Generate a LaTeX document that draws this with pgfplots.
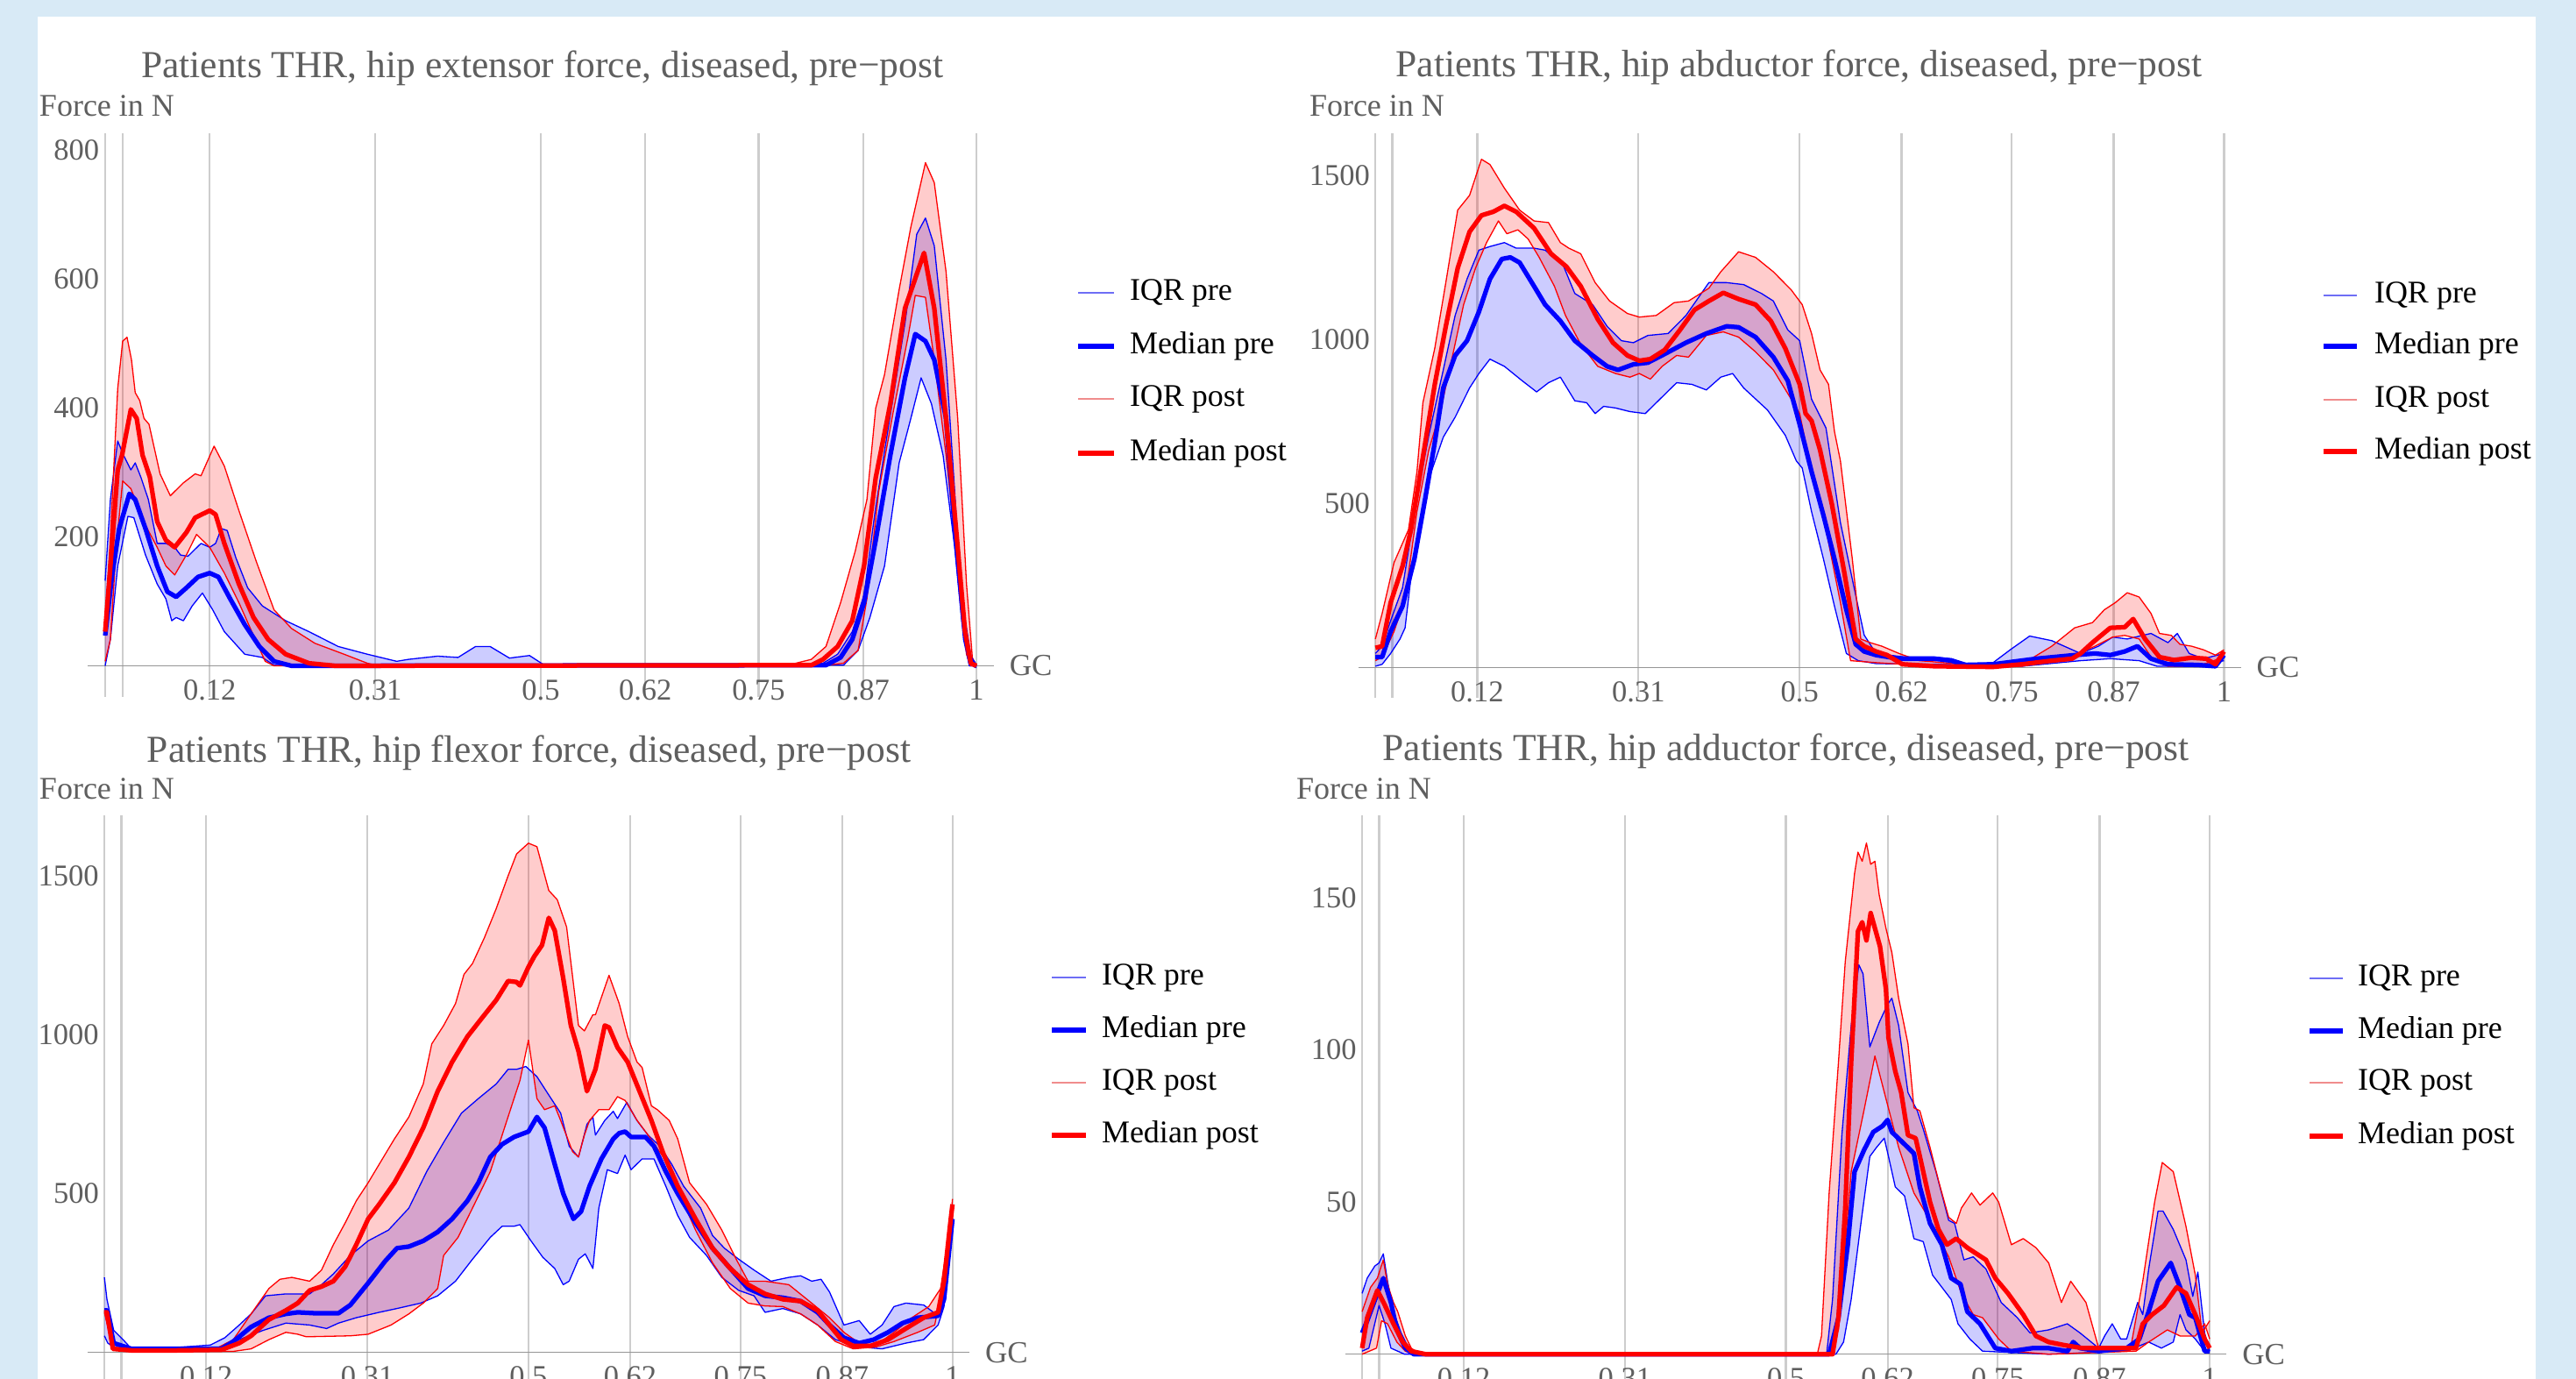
\documentclass[border=0pt]{standalone}
\usepackage{fontspec}
\setmainfont{Liberation Serif}
\usepackage{pgfplots}
\pgfplotsset{compat=1.18}
\usepgfplotslibrary{fillbetween}

\definecolor{bgblue}{RGB}{216,234,246}
\definecolor{gridc}{RGB}{205,205,205}
\definecolor{axc}{RGB}{150,150,150}
\definecolor{tgray}{RGB}{95,95,95}
\definecolor{legblue}{RGB}{110,110,245}
\definecolor{legred}{RGB}{240,140,140}

\pgfplotsset{
  gc/.style={
    set layers, scale only axis, anchor=south west, clip=false, no markers,
    xmin=-0.02, xmax=1.02,
    axis line style={draw=none},
    major tick length=0pt,
    xtick={0.02,0.12,0.31,0.5,0.62,0.75,0.87,1},
    xticklabels={,0.12,0.31,0.5,0.62,0.75,0.87,1},
    xmajorgrids=true,
    major grid style={gridc, line width=0.45pt},
    extra x ticks={0}, extra x tick labels={},
    extra x tick style={grid=major, major grid style={gridc, line width=0.3pt}},
    extra y ticks={0}, extra y tick labels={},
    extra y tick style={grid=major, major grid style={axc, line width=0.3pt}},
    tick label style={font=\fontsize{6.9}{8}\selectfont, text=tgray},
    xticklabel style={inner sep=0pt, anchor=north, yshift=4pt},
    yticklabel style={inner sep=0pt, anchor=east, xshift=2.8pt},
  },
  lo/.style={line width=0.26pt, line join=round},
  med/.style={line width=1.05pt, line join=round},
}

\begin{document}
\begin{tikzpicture}

% ---------------- extensor ----------------
\begin{axis}[gc, at={(20.02pt,155.64pt)}, width=206.76pt, height=128.46pt,
  ymin=-48, ymax=826, ytick={200,400,600,800}, yticklabels={200,400,600,800}]
\begin{pgfonlayer}{axis background}
\fill[bgblue] (rel axis cs:-0.1,-1.22) rectangle (rel axis cs:2.75,1.24);
\fill[white] (rel axis cs:-0.055233,-1.22) rectangle (rel axis cs:2.701586,1.207847);
\end{pgfonlayer}
\addplot[name path=ea, blue, lo] coordinates {
 (0,132) (0.006,258) (0.0144,349) (0.0211,327) (0.0295,304) (0.0345,315) (0.0412,292) (0.0496,258)
 (0.0597,190) (0.0697,190) (0.0798,184) (0.0865,172) (0.0949,170) (0.11,190) (0.12,184) (0.1267,190)
 (0.1334,213) (0.1401,210) (0.1502,167) (0.1636,121) (0.1804,93) (0.2072,70) (0.234,53) (0.2675,30)
 (0.301,18) (0.3346,7) (0.348,10) (0.3815,15) (0.405,13) (0.4251,30) (0.4418,30) (0.464,12) (0.487,16)
 (0.503,2) (0.52,0) (0.8,0) (0.8239,4) (0.8407,18) (0.8575,53) (0.871,110) (0.8844,247) (0.9012,390)
 (0.918,532) (0.9315,670) (0.9415,695) (0.9516,652) (0.9651,475) (0.9751,270) (0.9852,53) (0.9919,0) (1,0)};
\addplot[name path=eb, blue, lo] coordinates {
 (0,0) (0.006,41) (0.0144,155) (0.0261,232) (0.0329,230) (0.0463,172) (0.0597,127) (0.0697,104)
 (0.0764,70) (0.0815,75) (0.0898,70) (0.0999,93) (0.1116,113) (0.1234,87) (0.1368,53) (0.1602,18)
 (0.1804,13) (0.1938,1) (0.2072,0) (0.8474,1) (0.8642,24) (0.8777,75) (0.8945,155) (0.9113,315)
 (0.9247,384) (0.9365,447) (0.9483,407) (0.9617,327) (0.9751,184) (0.9852,41) (0.9919,0) (1,0)};
\addplot[fill=blue, fill opacity=0.2, draw=none] fill between[of=ea and eb];
\addplot[name path=ec, red, lo] coordinates {
 (0,60) (0.006,200) (0.0144,430) (0.0201,504) (0.0251,510) (0.0302,475) (0.0345,424) (0.0396,412)
 (0.0446,384) (0.0503,375) (0.063,298) (0.0748,264) (0.0898,284) (0.1033,298) (0.11,295) (0.125,341)
 (0.1368,310) (0.1535,241) (0.1737,161) (0.1938,87) (0.2139,58) (0.2407,35) (0.2742,18) (0.301,4)
 (0.3144,0) (0.7836,1) (0.8105,10) (0.8273,30) (0.8441,98) (0.8609,178) (0.8743,258) (0.8844,400)
 (0.8945,452) (0.9113,584) (0.9247,681) (0.9415,781) (0.9516,750) (0.9651,612) (0.9785,384)
 (0.9886,127) (0.9953,13) (1,0)};
\addplot[name path=ed, red, lo] coordinates {
 (0,7) (0.006,41) (0.0127,184) (0.0201,287) (0.0295,275) (0.0463,218) (0.0597,184) (0.0697,155)
 (0.0798,141) (0.0932,172) (0.1049,204) (0.12,184) (0.1368,144) (0.1535,98) (0.1703,47) (0.1837,7)
 (0.1938,0) (0.8273,1) (0.8474,4) (0.8642,24) (0.8743,104) (0.8878,270) (0.9046,395) (0.9214,510)
 (0.9298,575) (0.9415,572) (0.9516,475) (0.9651,327) (0.9785,155) (0.9886,18) (0.9936,0) (1,0)};
\addplot[fill=red, fill opacity=0.2, draw=none] fill between[of=ec and ed];
\addplot[blue, med] coordinates {
 (0,47) (0.0077,138) (0.0161,213) (0.0278,267) (0.0345,258) (0.0463,213) (0.0597,155) (0.0714,115)
 (0.0815,107) (0.0932,121) (0.1066,138) (0.12,144) (0.13,138) (0.1435,104) (0.1602,64) (0.177,30)
 (0.1938,7) (0.2139,0) (0.8273,1) (0.8441,13) (0.8575,41) (0.871,98) (0.8844,195) (0.9012,327)
 (0.918,447) (0.9298,515) (0.9415,504) (0.9516,475) (0.9651,384) (0.9751,212) (0.9852,70)
 (0.9919,13) (0.9987,0) (1,0)};
\addplot[red, med] coordinates {
 (0,53) (0.006,155) (0.0144,304) (0.0194,327) (0.0295,398) (0.0362,384) (0.0429,327) (0.0513,293)
 (0.0597,224) (0.0697,195) (0.0798,184) (0.0932,207) (0.1033,230) (0.12,241) (0.1267,235) (0.1368,190)
 (0.1535,127) (0.1703,75) (0.1871,41) (0.2072,18) (0.234,4) (0.2642,0) (0.8105,1) (0.8239,10)
 (0.8407,30) (0.8575,70) (0.871,155) (0.8844,292) (0.9012,407) (0.918,555) (0.9399,641) (0.9516,555)
 (0.9651,384) (0.9785,184) (0.9869,53) (0.9936,4) (1,0)};
\node[anchor=west, inner sep=0pt, xshift=3.4pt, font=\fontsize{7}{8}\selectfont, text=tgray] at (axis cs:1.02,0) {GC};
\end{axis}

% ---------------- abductor ----------------
\begin{axis}[gc, at={(309.96pt,155.3pt)}, width=201.38pt, height=128.8pt,
  ymin=-93.5, ymax=1627, ytick={500,1000,1500}, yticklabels={500,1000,1500}]
\addplot[name path=aa, blue, lo] coordinates {
 (0,43) (0.008,65) (0.018,143) (0.032,243) (0.049,519) (0.063,708) (0.08,907) (0.094,1073) (0.108,1184)
 (0.122,1272) (0.135,1283) (0.152,1295) (0.166,1278) (0.187,1278) (0.2,1272) (0.221,1228) (0.235,1140)
 (0.256,1106) (0.273,1040) (0.29,996) (0.304,990) (0.321,1012) (0.345,1018) (0.366,1073) (0.393,1173)
 (0.414,1173) (0.434,1167) (0.455,1140) (0.469,1117) (0.486,1029) (0.5,996) (0.514,818) (0.531,730)
 (0.548,442) (0.566,220) (0.576,99) (0.59,43) (0.624,32) (0.659,32) (0.679,27) (0.7,10) (0.728,15)
 (0.748,54) (0.771,96) (0.797,82) (0.831,43) (0.852,65) (0.869,93) (0.886,87) (0.914,104) (0.934,76)
 (0.945,104) (0.959,43) (0.976,27) (1,43)};
\addplot[name path=ab, blue, lo] coordinates {
 (0,4) (0.008,10) (0.018,43) (0.029,87) (0.035,121) (0.042,276) (0.052,442) (0.063,575) (0.08,702)
 (0.094,763) (0.111,852) (0.122,896) (0.135,940) (0.152,918) (0.173,874) (0.19,840) (0.204,868)
 (0.218,885) (0.235,813) (0.249,807) (0.259,774) (0.269,796) (0.283,791) (0.3,780) (0.318,774)
 (0.331,807) (0.355,868) (0.373,863) (0.39,846) (0.407,885) (0.421,896) (0.434,852) (0.462,785)
 (0.483,708) (0.496,630) (0.503,608) (0.514,475) (0.528,331) (0.541,187) (0.555,43) (0.569,21)
 (0.59,12) (0.659,10) (0.762,4) (0.831,21) (0.866,27) (0.9,21) (0.921,4) (0.969,4) (1,21)};
\addplot[fill=blue, fill opacity=0.2, draw=none] fill between[of=aa and ab];
\addplot[name path=ac, red, lo] coordinates {
 (0,87) (0.008,165) (0.022,320) (0.039,420) (0.049,597) (0.056,807) (0.07,973) (0.083,1173) (0.097,1394)
 (0.111,1439) (0.125,1549) (0.135,1533) (0.152,1461) (0.17,1394) (0.187,1361) (0.204,1356) (0.218,1295)
 (0.228,1278) (0.242,1261) (0.259,1173) (0.276,1117) (0.297,1079) (0.311,1068) (0.331,1073) (0.352,1112)
 (0.369,1117) (0.393,1156) (0.407,1206) (0.428,1267) (0.448,1250) (0.469,1206) (0.49,1151) (0.503,1106)
 (0.514,1018) (0.524,907) (0.534,863) (0.541,719) (0.548,630) (0.562,331) (0.572,87) (0.583,76)
 (0.597,65) (0.617,43) (0.641,21) (0.693,10) (0.762,10) (0.797,65) (0.824,121) (0.845,137) (0.859,176)
 (0.872,198) (0.886,228) (0.9,215) (0.914,165) (0.924,104) (0.938,98) (0.948,71) (0.962,65) (0.976,54)
 (0.99,38) (1,54)};
\addplot[name path=ad, red, lo] coordinates {
 (0,21) (0.008,32) (0.022,110) (0.035,209) (0.049,475) (0.063,663) (0.077,785) (0.091,951) (0.104,1106)
 (0.118,1217) (0.131,1295) (0.145,1361) (0.155,1322) (0.168,1334) (0.18,1306) (0.193,1250) (0.211,1162)
 (0.224,1073) (0.242,985) (0.262,918) (0.283,896) (0.3,885) (0.311,896) (0.324,879) (0.338,918)
 (0.355,951) (0.369,946) (0.39,1012) (0.41,1023) (0.428,1007) (0.448,962) (0.469,907) (0.49,818)
 (0.5,774) (0.514,597) (0.531,420) (0.548,198) (0.56,21) (0.59,15) (0.659,4) (0.762,4) (0.814,27)
 (0.848,65) (0.869,93) (0.883,98) (0.9,87) (0.917,21) (0.934,4) (0.969,4) (1,32)};
\addplot[fill=red, fill opacity=0.2, draw=none] fill between[of=ac and ad];
\addplot[blue, med] coordinates {
 (0,32) (0.008,32) (0.018,110) (0.032,187) (0.046,331) (0.059,519) (0.07,686) (0.08,852) (0.094,951)
 (0.108,996) (0.122,1084) (0.135,1184) (0.149,1245) (0.159,1250) (0.17,1234) (0.187,1162) (0.2,1106)
 (0.218,1056) (0.235,996) (0.256,951) (0.273,918) (0.286,907) (0.304,924) (0.321,929) (0.342,957)
 (0.366,990) (0.39,1018) (0.414,1040) (0.428,1037) (0.448,1007) (0.469,946) (0.486,874) (0.5,741)
 (0.514,597) (0.528,464) (0.541,331) (0.555,176) (0.566,71) (0.576,49) (0.59,38) (0.617,27) (0.659,27)
 (0.679,21) (0.693,8) (0.728,10) (0.779,27) (0.824,38) (0.848,43) (0.866,38) (0.883,49) (0.898,65)
 (0.914,27) (0.934,10) (0.969,8) (0.99,4) (1,38)};
\addplot[red, med] coordinates {
 (0,60) (0.008,65) (0.018,198) (0.032,309) (0.042,420) (0.056,641) (0.07,863) (0.083,1040) (0.097,1217)
 (0.111,1328) (0.125,1378) (0.139,1389) (0.152,1407) (0.166,1389) (0.187,1339) (0.207,1261) (0.225,1222)
 (0.242,1162) (0.262,1062) (0.28,990) (0.297,951) (0.311,935) (0.324,940) (0.341,968) (0.359,1029)
 (0.376,1090) (0.393,1117) (0.41,1142) (0.428,1123) (0.448,1106) (0.466,1056) (0.483,973) (0.5,863)
 (0.507,774) (0.514,752) (0.524,663) (0.538,497) (0.552,298) (0.566,87) (0.576,65) (0.59,49) (0.603,38)
 (0.621,10) (0.659,4) (0.728,2) (0.762,10) (0.797,21) (0.821,27) (0.831,43) (0.845,76) (0.866,121)
 (0.883,123) (0.893,148) (0.907,87) (0.924,32) (0.941,23) (0.962,30) (0.979,27) (0.99,10) (1,49)};
\node[anchor=west, inner sep=0pt, xshift=3.4pt, font=\fontsize{7}{8}\selectfont, text=tgray] at (axis cs:1.02,0) {GC};
\end{axis}

% ---------------- flexor ----------------
\begin{axis}[gc, at={(19.95pt,-0.92pt)}, width=201.26pt, height=129.46pt,
  ymin=-96.6, ymax=1690, ytick={500,1000,1500}, yticklabels={500,1000,1500}]
\addplot[name path=fa, blue, lo] coordinates {
 (0,236) (0.003,167) (0.011,69) (0.022,40) (0.032,11) (0.083,15) (0.125,23) (0.142,46) (0.159,86)
 (0.173,121) (0.19,178) (0.214,184) (0.242,184) (0.256,213) (0.27,247) (0.29,305) (0.311,351) (0.335,385)
 (0.359,454) (0.38,569) (0.4,661) (0.421,753) (0.441,799) (0.462,845) (0.476,891) (0.486,891) (0.497,900)
 (0.51,868) (0.524,810) (0.538,753) (0.548,649) (0.559,615) (0.569,718) (0.576,741) (0.579,684) (0.59,730)
 (0.6,759) (0.605,736) (0.616,787) (0.628,730) (0.641,684) (0.655,649) (0.669,592) (0.683,523) (0.703,454)
 (0.717,368) (0.731,328) (0.748,293) (0.766,259) (0.786,224) (0.807,236) (0.821,241) (0.834,224)
 (0.845,230) (0.855,190) (0.872,86) (0.89,100) (0.903,57) (0.917,86) (0.931,144) (0.945,155) (0.966,149)
 (0.983,115) (0.99,224) (1,420)};
\addplot[name path=fb, blue, lo] coordinates {
 (0,52) (0.004,29) (0.015,11) (0.032,6) (0.135,8) (0.159,40) (0.187,69) (0.214,92) (0.242,86) (0.262,75)
 (0.276,92) (0.297,109) (0.324,126) (0.345,138) (0.373,155) (0.393,178) (0.414,224) (0.434,293)
 (0.455,362) (0.469,397) (0.483,397) (0.49,402) (0.503,351) (0.517,299) (0.531,264) (0.541,213)
 (0.548,224) (0.559,293) (0.567,310) (0.576,264) (0.583,454) (0.593,575) (0.605,563) (0.614,621)
 (0.621,575) (0.634,609) (0.648,609) (0.662,523) (0.676,431) (0.69,362) (0.71,305) (0.728,236)
 (0.748,195) (0.766,178) (0.779,126) (0.8,138) (0.821,121) (0.841,86) (0.862,40) (0.89,17) (0.917,11)
 (0.945,29) (0.966,40) (0.983,86) (0.99,144) (1,420)};
\addplot[fill=blue, fill opacity=0.2, draw=none] fill between[of=fa and fb];
\addplot[name path=fc, red, lo] coordinates {
 (0,132) (0.01,17) (0.032,8) (0.083,8) (0.131,11) (0.152,40) (0.173,121) (0.194,201) (0.207,230)
 (0.221,236) (0.242,224) (0.256,259) (0.27,339) (0.284,408) (0.297,477) (0.311,534) (0.324,592)
 (0.342,672) (0.359,741) (0.376,845) (0.386,971) (0.4,1029) (0.414,1098) (0.424,1190) (0.434,1224)
 (0.448,1305) (0.462,1397) (0.476,1500) (0.486,1569) (0.5,1603) (0.51,1592) (0.524,1454) (0.534,1425)
 (0.545,1339) (0.559,1029) (0.566,1012) (0.576,1063) (0.579,1063) (0.595,1187) (0.607,1098) (0.617,994)
 (0.628,914) (0.634,897) (0.645,776) (0.652,764) (0.666,730) (0.676,672) (0.69,534) (0.71,466)
 (0.728,385) (0.745,293) (0.759,224) (0.779,224) (0.807,213) (0.834,155) (0.855,109) (0.872,63)
 (0.89,29) (0.91,23) (0.931,63) (0.952,109) (0.972,144) (0.986,201) (0.997,397) (1,483)};
\addplot[name path=fd, red, lo] coordinates {
 (0,126) (0.01,11) (0.049,3) (0.152,3) (0.173,11) (0.194,40) (0.214,63) (0.228,57) (0.238,49) (0.29,52)
 (0.311,57) (0.338,86) (0.359,121) (0.376,155) (0.393,201) (0.4,305) (0.417,362) (0.434,454) (0.455,569)
 (0.469,684) (0.483,799) (0.49,856) (0.5,983) (0.51,799) (0.519,764) (0.531,776) (0.538,730) (0.552,632)
 (0.559,615) (0.566,684) (0.572,730) (0.583,764) (0.595,764) (0.605,805) (0.614,793) (0.628,730)
 (0.641,684) (0.659,615) (0.676,511) (0.697,385) (0.717,282) (0.738,201) (0.759,155) (0.779,146)
 (0.8,144) (0.821,121) (0.841,86) (0.862,34) (0.883,11) (0.91,17) (0.931,34) (0.959,63) (0.979,86)
 (0.99,224) (1,466)};
\addplot[fill=red, fill opacity=0.2, draw=none] fill between[of=fc and fd];
\addplot[blue, med] coordinates {
 (0,132) (0.003,132) (0.011,29) (0.032,11) (0.083,11) (0.138,11) (0.152,34) (0.173,80) (0.194,109)
 (0.214,121) (0.228,126) (0.249,123) (0.276,123) (0.29,149) (0.311,218) (0.331,287) (0.345,328)
 (0.359,333) (0.376,351) (0.393,379) (0.41,420) (0.428,477) (0.441,534) (0.455,615) (0.469,655)
 (0.483,678) (0.5,695) (0.51,741) (0.519,707) (0.531,592) (0.541,500) (0.553,420) (0.562,443)
 (0.572,523) (0.586,609) (0.6,672) (0.607,690) (0.614,695) (0.621,678) (0.638,678) (0.648,649)
 (0.662,569) (0.676,500) (0.697,408) (0.717,328) (0.738,264) (0.759,201) (0.779,178) (0.8,172)
 (0.821,161) (0.841,126) (0.855,86) (0.872,46) (0.89,29) (0.907,40) (0.924,63) (0.941,92) (0.959,109)
 (0.983,115) (0.99,167) (1,420)};
\addplot[red, med] coordinates {
 (0,126) (0.003,126) (0.01,11) (0.032,6) (0.083,6) (0.138,8) (0.159,29) (0.173,52) (0.194,103)
 (0.214,132) (0.228,155) (0.242,195) (0.256,207) (0.27,224) (0.284,270) (0.297,339) (0.311,420)
 (0.324,466) (0.342,534) (0.359,615) (0.376,707) (0.393,822) (0.41,914) (0.428,994) (0.445,1052)
 (0.462,1109) (0.476,1169) (0.486,1166) (0.49,1155) (0.5,1213) (0.507,1247) (0.516,1282) (0.524,1368)
 (0.531,1328) (0.541,1178) (0.55,1029) (0.559,948) (0.569,822) (0.579,891) (0.59,1029) (0.595,1023)
 (0.605,960) (0.617,914) (0.631,822) (0.645,730) (0.659,626) (0.676,523) (0.697,420) (0.717,328)
 (0.738,264) (0.759,213) (0.779,184) (0.8,167) (0.821,161) (0.841,132) (0.855,86) (0.869,40) (0.883,20)
 (0.903,20) (0.924,40) (0.945,75) (0.966,109) (0.983,126) (0.99,224) (0.997,397) (1,466)};
\node[anchor=west, inner sep=0pt, xshift=3.4pt, font=\fontsize{7}{8}\selectfont, text=tgray] at (axis cs:1.02,0) {GC};
\end{axis}

% ---------------- adductor ----------------
\begin{axis}[gc, at={(306.94pt,-1.36pt)}, width=201.14pt, height=129.88pt,
  ymin=-10.1, ymax=177, ytick={50,100,150}, yticklabels={50,100,150}]
\addplot[name path=da, blue, lo] coordinates {
 (0,20) (0.006,25) (0.015,29) (0.02,30) (0.025,33) (0.03,24) (0.037,14) (0.046,7) (0.055,2) (0.065,0)
 (0.548,0) (0.555,18) (0.566,72) (0.577,108) (0.586,128) (0.591,125) (0.599,101) (0.61,109) (0.62,115)
 (0.625,117) (0.633,108) (0.644,86) (0.655,80) (0.662,74) (0.677,60) (0.692,44) (0.699,43) (0.71,31)
 (0.721,32) (0.736,28) (0.754,17) (0.773,12) (0.788,7) (0.81,8) (0.832,10) (0.847,7) (0.869,2) (0.876,6)
 (0.885,10) (0.895,5) (0.902,5) (0.915,17) (0.921,13) (0.928,28) (0.939,47) (0.945,47) (0.957,41)
 (0.972,31) (0.98,19) (0.986,27) (0.994,7) (1,1)};
\addplot[name path=db, blue, lo] coordinates {
 (0,1) (0.008,2) (0.02,16) (0.027,10) (0.034,2) (0.042,1) (0.05,0) (0.559,0) (0.568,4) (0.577,18)
 (0.588,42) (0.599,65) (0.607,68) (0.616,71) (0.621,65) (0.629,55) (0.64,52) (0.651,38) (0.662,37)
 (0.673,26) (0.684,22) (0.695,18) (0.703,10) (0.717,5) (0.732,1) (0.81,0) (0.902,1) (0.928,4) (0.943,2)
 (0.957,4) (0.965,13) (0.972,8) (0.983,5) (0.994,1) (1,1)};
\addplot[fill=blue, fill opacity=0.2, draw=none] fill between[of=da and db];
\addplot[name path=dc, red, lo] coordinates {
 (0,14) (0.01,22) (0.018,25) (0.025,31) (0.03,23) (0.037,17) (0.042,14) (0.051,6) (0.058,2) (0.068,0)
 (0.537,0) (0.542,6) (0.551,53) (0.562,96) (0.57,129) (0.581,158) (0.585,165) (0.59,162) (0.595,168)
 (0.6,161) (0.605,162) (0.61,151) (0.618,140) (0.625,132) (0.633,117) (0.644,102) (0.651,81) (0.658,80)
 (0.67,68) (0.681,56) (0.692,45) (0.701,43) (0.707,48) (0.719,53) (0.729,49) (0.744,53) (0.751,50)
 (0.766,36) (0.78,38) (0.795,35) (0.81,30) (0.825,17) (0.836,24) (0.854,17) (0.869,2) (0.906,1)
 (0.921,24) (0.935,50) (0.944,63) (0.957,60) (0.972,42) (0.983,26) (0.991,7) (1,11)};
\addplot[name path=dd, red, lo] coordinates {
 (0,0) (0.017,2) (0.023,11) (0.03,10) (0.041,4) (0.051,1) (0.06,0) (0.551,0) (0.562,8) (0.577,60)
 (0.592,80) (0.605,98) (0.618,84) (0.633,68) (0.651,53) (0.67,44) (0.692,32) (0.707,20) (0.721,13)
 (0.732,12) (0.751,5) (0.766,1) (0.81,0) (0.913,1) (0.928,4) (0.95,8) (0.965,6) (0.983,6) (0.994,10) (1,5)};
\addplot[fill=red, fill opacity=0.2, draw=none] fill between[of=dc and dd];
\addplot[blue, med] coordinates {
 (0,7) (0.006,11) (0.018,20) (0.025,25) (0.034,17) (0.041,8) (0.051,2) (0.061,0) (0.551,0) (0.562,12)
 (0.573,36) (0.581,60) (0.592,67) (0.603,73) (0.614,75) (0.62,77) (0.625,73) (0.64,69) (0.651,66)
 (0.658,55) (0.67,43) (0.684,36) (0.695,25) (0.706,23) (0.714,14) (0.729,10) (0.747,2) (0.766,1)
 (0.791,2) (0.81,2) (0.832,1) (0.839,4) (0.847,2) (0.869,1) (0.902,2) (0.917,5) (0.928,14) (0.939,24)
 (0.954,30) (0.965,22) (0.976,13) (0.983,12) (0.994,1) (1,1)};
\addplot[red, med] coordinates {
 (0,2) (0.006,12) (0.018,21) (0.027,16) (0.037,10) (0.048,4) (0.058,1) (0.075,0) (0.555,0) (0.562,12)
 (0.57,48) (0.577,96) (0.585,139) (0.59,142) (0.595,136) (0.6,145) (0.605,140) (0.611,134) (0.618,120)
 (0.621,104) (0.629,93) (0.636,86) (0.644,72) (0.653,71) (0.658,65) (0.67,50) (0.68,41) (0.69,36)
 (0.701,38) (0.714,35) (0.736,31) (0.747,25) (0.762,20) (0.78,13) (0.795,6) (0.81,4) (0.828,3) (0.85,2)
 (0.913,2) (0.921,10) (0.932,13) (0.946,16) (0.961,22) (0.972,20) (0.983,13) (0.994,5) (1,2)};
\node[anchor=west, inner sep=0pt, xshift=3.4pt, font=\fontsize{7}{8}\selectfont, text=tgray] at (axis cs:1.02,0) {GC};
\end{axis}

% ---------------- titles, labels, legends (pixel grid) ----------------
\begin{scope}[x=0.2pt, y=-0.2pt, shift={(0,314.6pt)}]
\tikzset{ttl/.style={font=\fontsize{8.7}{10}\selectfont, text=tgray, inner sep=0pt},
         ylab/.style={anchor=west, font=\fontsize{7.2}{8.5}\selectfont, text=tgray, inner sep=0pt},
         lt/.style={anchor=west, font=\fontsize{7.2}{8.5}\selectfont, inner sep=0pt}}
\node[ttl] at (618.6,78) {Patients THR, hip extensor force, diseased, pre−post};
\node[ttl] at (2052.5,77) {Patients THR, hip abductor force, diseased, pre−post};
\node[ttl] at (603.6,859) {Patients THR, hip flexor force, diseased, pre−post};
\node[ttl] at (2037.6,857) {Patients THR, hip adductor force, diseased, pre−post};
\node[ylab] at (44,121) {Force in N};
\node[ylab] at (1493,121) {Force in N};
\node[ylab] at (44,900) {Force in N};
\node[ylab] at (1478,900) {Force in N};
\foreach \xa/\xb/\xt/\ya/\yb/\yc/\yd in {1230/1271/1288/334/395/455/517, 2651/2689/2708/337/395/456/515,
  1200/1239/1256/1115/1175/1235/1295, 2635/2673/2689/1116/1176/1235/1296}{
  \draw[legblue, line width=0.3pt] (\xa,\ya) -- (\xb,\ya);
  \node[lt] at (\xt,\ya) {IQR pre};
  \draw[blue, line width=1.05pt] (\xa,\yb) -- (\xb,\yb);
  \node[lt] at (\xt,\yb) {Median pre};
  \draw[legred, line width=0.3pt] (\xa,\yc) -- (\xb,\yc);
  \node[lt] at (\xt,\yc) {IQR post};
  \draw[red, line width=1.05pt] (\xa,\yd) -- (\xb,\yd);
  \node[lt] at (\xt,\yd) {Median post};
}
\end{scope}
\pgfresetboundingbox
\useasboundingbox (0,0) rectangle (587.8pt,314.6pt);
\end{tikzpicture}
\end{document}
